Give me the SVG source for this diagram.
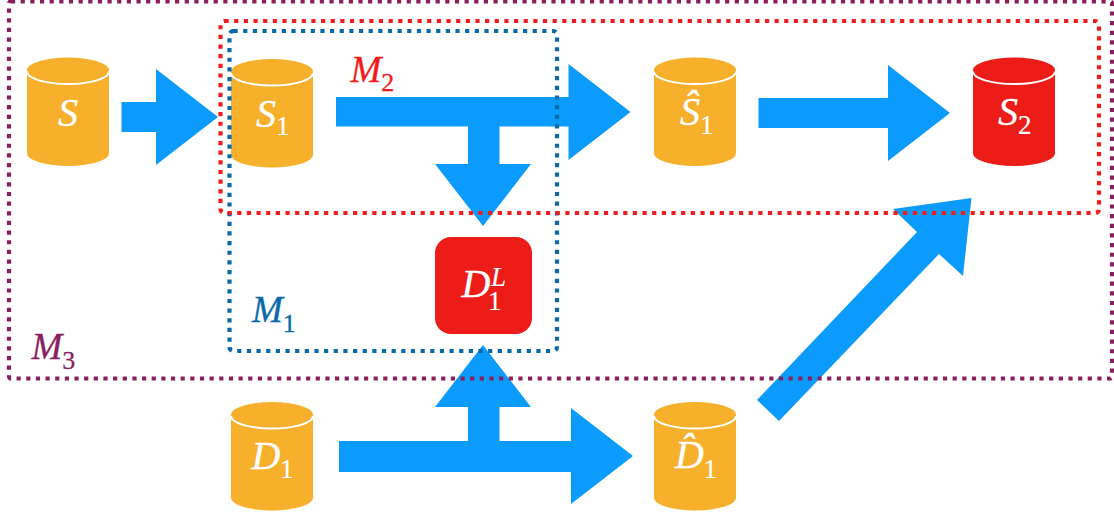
<svg xmlns="http://www.w3.org/2000/svg" width="1114" height="517" viewBox="0 0 1114 517">
<style>
text{font-family:"Liberation Serif","Times New Roman",serif;font-style:italic}
.lbl{font-size:40px;fill:#fff;stroke:#fff;stroke-width:.3}
.sub{font-size:27px;font-style:normal;fill:#fff;stroke:#fff;stroke-width:.2}
.sup{font-size:27px;fill:#fff;stroke:#fff;stroke-width:.2}
.m{font-size:37px;stroke-width:.3}
.msub{font-size:26px;font-style:normal}
.arrow{fill:#0b9bfd}
.box{fill:none;stroke-width:4.2;stroke-dasharray:4.2 5.45}
.o{fill:#f7b02c}
.r{fill:#ec1c18}
.lip{fill:none;stroke:#fff;stroke-width:2}
</style>
<defs>
<g id="cyl">
<path d="M0 12.500A41 12.500 0 0 1 82 12.500V96A41 12.500 0 0 1 0 96Z"/>
<path class="lip" d="M0 14A41 12.500 0 0 0 82 14"/>
</g>
</defs>
<g id="connectors">
<polygon class="arrow" points="121.500,102 156,102 156,69 218,117 156,165 156,132 121.500,132"/>
<polygon class="arrow" points="336,97 568.500,97 568.500,64 630.500,112 568.500,160 568.500,126.500 499.500,126.500 499.500,164 531,164 483,226 435,164 468,164 468,126.500 336,126.500"/>
<polygon class="arrow" points="758.500,98 888,98 888,65 950,113 888,161 888,128 758.500,128"/>
<polygon class="arrow" points="339,441 468,441 468,407 435,407 483,345 531,407 499.500,407 499.500,441 571,441 571,408 633,456 571,504 571,472 339,472"/>
<polygon class="arrow" points="757,400 917,232 893,209 971.500,198 963,276 939,254 779,421"/>
</g>
<g id="node-s"><use href="#cyl" class="o" x="27" y="57.500"/><text class="lbl" x="58" y="126">S</text></g>
<g id="node-s1"><use href="#cyl" class="o" x="231" y="59"/><text class="lbl" x="256" y="127">S</text><text class="sub" x="276" y="135">1</text></g>
<g id="node-s1hat"><use href="#cyl" class="o" x="654" y="57.500"/><text class="lbl" x="680" y="125">S&#x302;</text><text class="sub" x="700" y="133.500">1</text></g>
<g id="node-s2"><use href="#cyl" class="r" x="973" y="57.500"/><text class="lbl" x="998" y="125">S</text><text class="sub" x="1018" y="134">2</text></g>
<g id="node-d1l"><rect class="r" x="435" y="237" width="97" height="97" rx="16"/><text class="lbl" x="461.500" y="297">D</text><text class="sup" x="491" y="286">L</text><text class="sub" x="488" y="310">1</text></g>
<g id="node-d1"><use href="#cyl" class="o" x="231" y="402"/><text class="lbl" x="251.500" y="469">D</text><text class="sub" x="280" y="478">1</text></g>
<g id="node-d1hat"><use href="#cyl" class="o" x="654" y="402"/><text class="lbl" x="675" y="468">D&#x302;</text><text class="sub" x="703.500" y="477.500">1</text></g>
<g id="region-m3"><rect class="box" x="9" y="1.500" width="1103" height="377" rx="2" stroke="#8a1f5f"/><text class="m" x="31.500" y="359" fill="#8a1f5f" stroke="#8a1f5f">M<tspan class="msub" dy="10">3</tspan></text></g>
<g id="region-m1"><rect class="box" x="229.500" y="31" width="327.500" height="320" rx="4" stroke="#0a6aa8"/><text class="m" x="252" y="322" fill="#0a6aa8" stroke="#0a6aa8">M<tspan class="msub" dy="10">1</tspan></text></g>
<g id="region-m2"><rect class="box" x="220.500" y="21" width="878.500" height="192" rx="4" stroke="#ee1c1c"/><text class="m" x="350.500" y="82" fill="#ee1c1c" stroke="#ee1c1c">M<tspan class="msub" dy="9">2</tspan></text></g>
</svg>
